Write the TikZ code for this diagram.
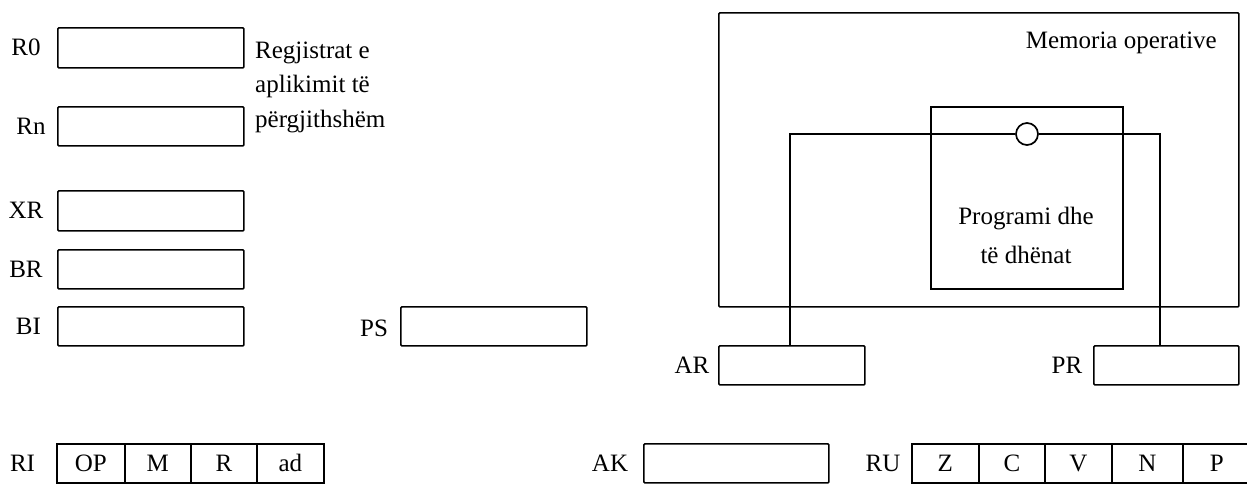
\documentclass[tikz,border=0pt]{standalone}
\usepackage{fontspec}
\setmainfont{Liberation Serif}
\begin{document}
\begin{tikzpicture}[x=1pt,y=-1pt,
  every node/.style={font=\fontsize{25}{30}\selectfont},
  regbox/.style={draw, line width=1.7pt, rounded corners=1pt, inner sep=0pt, anchor=north west},
  cell/.style={draw, line width=1.7pt, inner sep=0pt, anchor=north west, minimum height=39pt, text height=17pt, text depth=0pt},
  lab/.style={anchor=base, inner sep=0pt},
  wire/.style={line width=1.7pt}]
\useasboundingbox (0,0) rectangle (1247,483);

% memory
\node[regbox, minimum width=520pt, minimum height=294pt] (mem) at (718,12) {};
\node[lab, anchor=base east] (memt) at (1217,48) {Memoria operative};
\node[regbox, rounded corners=0pt, minimum width=192pt, minimum height=182pt] (prog) at (930,106) {};
\node[lab] (prog1) at (1026,224) {Programi dhe};
\node[lab] (prog2) at (1026,263) {të dhënat};

% left registers
\node[regbox, minimum width=186pt, minimum height=40pt] (R0) at (57,27) {};
\node[lab] (R0l) at (26,55.5) {R0};
\node[regbox, minimum width=186pt, minimum height=39pt] (Rn) at (57,106) {};
\node[lab] (Rnl) at (31,134) {Rn};
\node[lab, anchor=base west] (t1) at (255,58) {Regjistrat e};
\node[lab, anchor=base west] (t2) at (255,92) {aplikimit të};
\node[lab, anchor=base west] (t3) at (255,127) {përgjithshëm};
\node[regbox, minimum width=186pt, minimum height=40pt] (XR) at (57,190) {};
\node[lab] (XRl) at (26,218.5) {XR};
\node[regbox, minimum width=186pt, minimum height=39pt] (BR) at (57,249) {};
\node[lab] (BRl) at (26,277) {BR};
\node[regbox, minimum width=186pt, minimum height=39pt] (BI) at (57,306) {};
\node[lab] (BIl) at (28.5,334) {BI};
\node[regbox, minimum width=186pt, minimum height=39pt] (PS) at (400,306) {};
\node[lab] (PSl) at (374,336) {PS};

% AR / PR
\node[regbox, minimum width=146pt, minimum height=39pt] (AR) at (718,345) {};
\node[lab] (ARl) at (692,373) {AR};
\node[regbox, minimum width=145pt, minimum height=39pt] (PR) at (1093,345) {};
\node[lab] (PRl) at (1067,373) {PR};

% wire with circle
\node[draw, circle, line width=1.7pt, fill=white, minimum size=22pt, inner sep=0pt] (circ) at (1027,134) {};
\draw[wire] ([xshift=-2pt]AR.north) |- (circ.west);
\draw[wire] (circ.east) -| ([xshift=-6.5pt]PR.north);

% bottom row
\node[lab] (RIl) at (22.5,471) {RI};
\node[cell, minimum width=68pt] (OP) at (56,443) {OP};
\node[cell, minimum width=66pt] (M) at (124,443) {M};
\node[cell, minimum width=66pt] (Rc) at (190,443) {R};
\node[cell, minimum width=67pt] (ad) at (256,443) {ad};

\node[lab] (AKl) at (610,471) {AK};
\node[regbox, minimum width=185pt, minimum height=39pt] (AK) at (643,443) {};

\node[lab] (RUl) at (883,471) {RU};
\node[cell, minimum width=67pt] (Z) at (911,443) {Z};
\node[cell, minimum width=66pt] (C) at (978,443) {C};
\node[cell, minimum width=67pt] (V) at (1044,443) {V};
\node[cell, minimum width=71pt] (N) at (1111,443) {N};
\node[cell, minimum width=68pt] (P) at (1182,443) {P};
\end{tikzpicture}
\end{document}
